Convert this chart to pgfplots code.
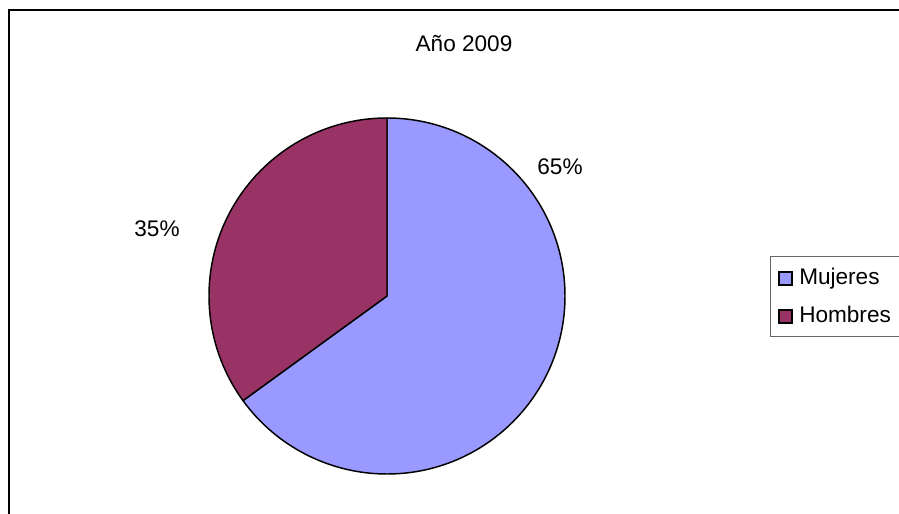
\documentclass[border=0pt]{standalone}
\usepackage{fontspec}
\setmainfont{Liberation Sans}
\usepackage{pgfplots}
\usepackage{pgfplotstable}
\pgfplotsset{compat=1.18}
\definecolor{mujeres}{HTML}{9999FF}
\definecolor{hombres}{HTML}{993366}
\pgfplotstableread{
label value
Mujeres 65
Hombres 35
}\piedata
\begin{document}
\begin{tikzpicture}
\fill[white, use as bounding box] (0,0) rectangle (674.25bp,385.5bp);
\begin{axis}[
  at={(0,0)}, anchor=origin,
  x=0.75bp, y=0.75bp,
  xmin=0, xmax=899, ymin=0, ymax=514,
  hide axis, clip=false,
  font=\fontsize{17}{19}\selectfont,
]
\pgfplotstablegetelem{0}{value}\of\piedata \let\vA\pgfplotsretval
\pgfplotstablegetelem{1}{value}\of\piedata \let\vB\pgfplotsretval
\pgfmathsetmacro{\aA}{90-3.6*\vA}
\pgfmathsetmacro{\aB}{90+3.6*\vB}
% outer frame
\draw[line width=1.5bp, black, line cap=butt] (axis cs:8.5,0) -- (axis cs:8.5,503.5) -- (axis cs:899,503.5);
% slices
\filldraw[fill=mujeres, draw=black, line width=1.1bp, line join=round]
  (axis cs:387,218) -- (axis cs:387,396) arc[start angle=90, end angle=\aA, radius=133.5bp] -- cycle;
\filldraw[fill=hombres, draw=black, line width=1.1bp, line join=round]
  (axis cs:387,218) -- (axis cs:387,396) arc[start angle=90, end angle=\aB, radius=133.5bp] -- cycle;
% labels
\node[anchor=base, inner sep=0pt] at (axis cs:464,462) {Año 2009};
\node[anchor=base, inner sep=0pt] at (axis cs:560,339) {\vA\%};
\node[anchor=base, inner sep=0pt] at (axis cs:157,277) {\vB\%};
% legend
\draw[line width=0.75bp, black!60, line cap=butt] (axis cs:899,257) -- (axis cs:770,257) -- (axis cs:770,177) -- (axis cs:899,177);
\filldraw[fill=mujeres, draw=black, line width=0.9bp] (axis cs:779,229) rectangle (axis cs:792,242);
\filldraw[fill=hombres, draw=black, line width=0.9bp] (axis cs:779,191) rectangle (axis cs:792,204);
\node[anchor=base west, inner sep=0pt] at (axis cs:799,229) {Mujeres};
\node[anchor=base west, inner sep=0pt] at (axis cs:799,191) {Hombres};
\end{axis}
\end{tikzpicture}
\end{document}
